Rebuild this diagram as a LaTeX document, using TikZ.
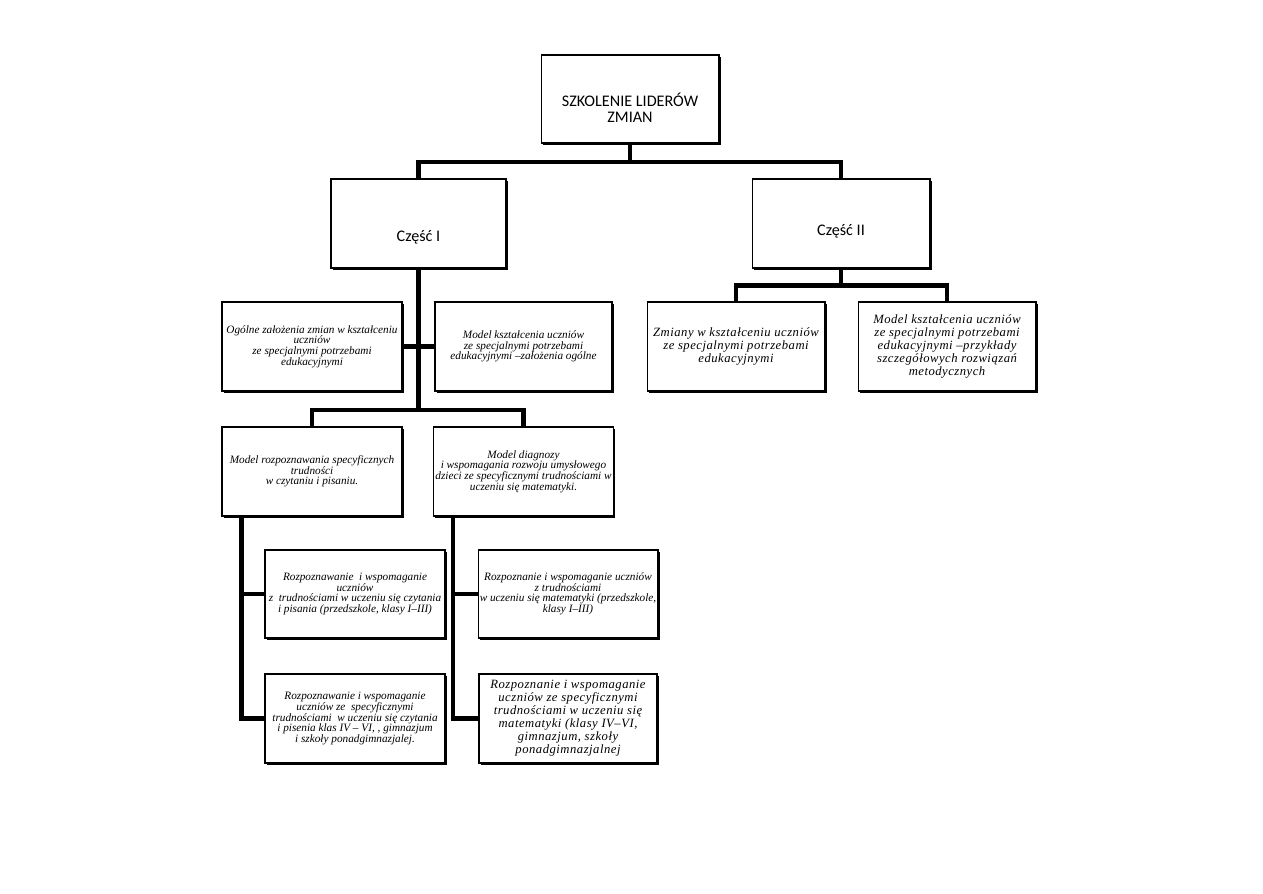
\documentclass[tikz,border=0pt]{standalone}
\usepackage{fontspec}
\setmainfont{Liberation Serif}
\newfontfamily\sansf{Carlito}
\usetikzlibrary{calc,shadows}
\tikzset{
  box/.style={draw=black, fill=white, line width=0.6pt, align=center, inner sep=1pt,
    drop shadow={shadow xshift=0.9pt, shadow yshift=-0.9pt, opacity=1, fill=black}},
  small/.style={font=\fontsize{6.4}{6}\selectfont\itshape},
  wide/.style={font=\fontsize{7.2}{7.4}\selectfont\itshape\addfontfeature{LetterSpace=4}},
  head/.style={font=\fontsize{9.2}{11}\selectfont\sansf, align=center},
  conn/.style={line width=2.3pt, line cap=butt, line join=miter}
}
\begin{document}
\begin{tikzpicture}[x=0.02cm,y=-0.02cm]
\useasboundingbox (0,0) rectangle (1263,893);
% nodes
\node[box, minimum width=3.56cm, minimum height=1.76cm] (top) at (630,99) {};
\node[head, anchor=center] (toptext) at (630,108) {SZKOLENIE LIDERÓW\\[-2pt] ZMIAN};
\node[box, minimum width=3.5cm, minimum height=1.78cm] (p1) at (418.5,223.5) {};
\node[head] (p1text) at (418.5,237) {Część I};
\node[box, minimum width=3.56cm, minimum height=1.78cm] (p2) at (841,223.5) {};
\node[head] (p2text) at (841,231) {Część II};

\node[box, small, minimum width=3.6cm, minimum height=1.78cm] (a) at (312,346.5)
 {Ogólne założenia zmian w kształceniu\\ uczniów\\ ze specjalnymi potrzebami\\ edukacyjnymi};
\node[box, small, minimum width=3.54cm, minimum height=1.78cm] (b) at (523.5,346.5)
 {Model kształcenia uczniów\\ ze specjalnymi potrzebami\\ edukacyjnymi –założenia ogólne};
\node[box, wide, minimum width=3.56cm, minimum height=1.78cm] (c) at (736,346.5)
 {Zmiany w kształceniu uczniów\\ ze specjalnymi potrzebami\\ edukacyjnymi};
\node[box, wide, minimum width=3.56cm, minimum height=1.78cm] (d) at (947,346.5)
 {Model kształcenia uczniów\\ ze specjalnymi potrzebami\\ edukacyjnymi –przykłady\\ szczegółowych rozwiązań\\ metodycznych};
\node[box, small, minimum width=3.6cm, minimum height=1.78cm] (e) at (312,471.5)
 {Model rozpoznawania specyficznych\\ trudności\\ w czytaniu i pisaniu.};
\node[box, small, minimum width=3.54cm, minimum height=1.78cm] (f) at (523.5,471.5)
 {Model diagnozy\\ i wspomagania rozwoju umysłowego\\ dzieci ze specyficznymi trudnościami w\\ uczeniu się matematyki.};
\node[box, small, minimum width=3.6cm, minimum height=1.76cm] (g) at (355,594)
 {Rozpoznawanie \ i wspomaganie\\ uczniów\\ z \ trudnościami w uczeniu się czytania\\ i pisania (przedszkole, klasy I–III)};
\node[box, small, minimum width=3.6cm, minimum height=1.78cm] (h) at (355,718.5)
 {Rozpoznawanie i wspomaganie\\ uczniów ze \ specyficznymi\\ trudnościami \ w uczeniu się czytania\\ i pisenia klas IV – VI, , gimnazjum\\ i szkoły ponadgimnazjalej.};
\node[box, small, minimum width=3.56cm, minimum height=1.76cm] (i) at (568,594)
 {Rozpoznanie i wspomaganie uczniów\\ z trudnościami\\ w uczeniu się matematyki (przedszkole,\\ klasy I–III)};
\node[box, wide, minimum width=3.56cm, minimum height=1.78cm] (j) at (568,718.5)
 {Rozpoznanie i wspomaganie\\ uczniów ze specyficznymi\\ trudnościami w uczeniu się\\ matematyki (klasy IV–VI,\\ gimnazjum, szkoły\\ ponadgimnazjalnej};

% connectors
\coordinate (j1) at (630,162);
\draw[conn] (top.south) -- (j1);
\draw[conn] (p1.north) |- (j1) -| (p2.north);
\coordinate (j2) at (841,285.5);
\draw[conn] (p2.south) -- (j2);
\draw[conn] (c.north) |- (j2) -| (d.north);
\coordinate (j3) at (418.5,410);
\draw[conn] (p1.south) -- (j3);
\draw[conn] (e.north) |- (j3) -| (f.north);
\draw[conn] (a.east) -- (b.west);
\coordinate (l1) at ($(e.south west)+(20,0)$);
\draw[conn] (l1) |- (h.west);
\draw[conn] (g.west) -| (l1);
\coordinate (r1) at ($(f.south west)+(20,0)$);
\draw[conn] (r1) |- (j.west);
\draw[conn] (i.west) -| (r1);
\end{tikzpicture}
\end{document}
